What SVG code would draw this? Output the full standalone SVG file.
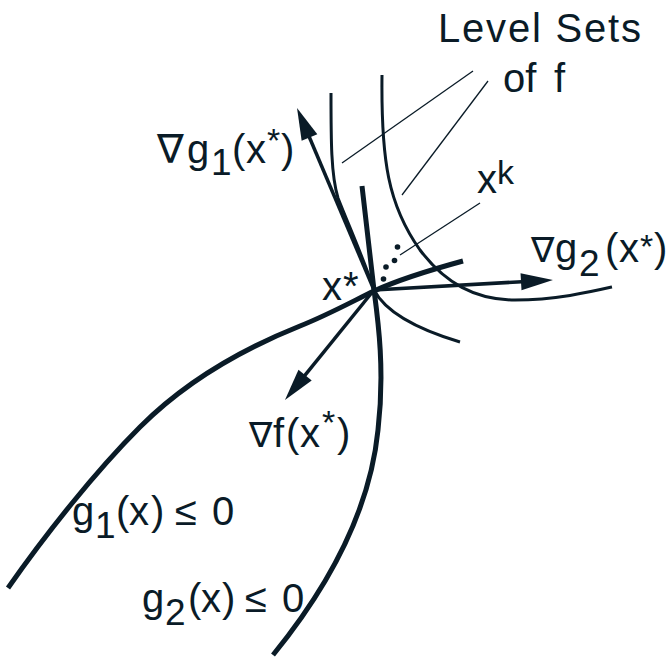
<svg xmlns="http://www.w3.org/2000/svg" width="670" height="658" viewBox="0 0 670 658">
<defs>
<style>
.thick{fill:none;stroke:#0a1b27;stroke-width:5;stroke-linecap:butt}
.lvl{fill:none;stroke:#0a1b27;stroke-width:3}
.arr{fill:none;stroke:#0a1b27;stroke-width:3.5}
.lead{fill:none;stroke:#0a1b27;stroke-width:1.3}
.dot{fill:#0a1b27}
text{font-family:"Liberation Sans","DejaVu Sans",Arial,sans-serif;font-size:40px;fill:#0a1b27}
.sub{font-size:37px}
.sup{font-size:34px}
.nab{font-size:35px}
.nabL{font-size:40px}
</style>
<marker id="ah" viewBox="-1 -12 40 24" markerWidth="40" markerHeight="24" refX="10" refY="0" orient="auto" markerUnits="userSpaceOnUse">
<path d="M0,-8.5 L32,0 L0,8.5 Z" fill="#0a1b27"/>
</marker>
</defs>
<rect width="670" height="658" fill="#ffffff"/>
<g id="connectors">
<path id="levelset1" class="lvl" d="M331,93 C331,140 331,175 338,198 C349,226 365,262 374,290 C386,313 420,330 460,342"/>
<path id="levelset2" class="lvl" d="M382,75 C381,160 388,205 420,250 C445,283 475,300 515,300 C555,300 590,292 612,287"/>
<path id="g1curve" class="thick" d="M8,588 C45,535 95,472 140,427 S240,350 300,326 C330,314 355,300 374,291 C400,279 430,270 463,261"/>
<path id="g2curve" class="thick" d="M273,655 C330,585 370,510 378,430 C385,370 378,320 374,290 L362,186"/>
<path id="grad-g1" class="arr" d="M374,290 L305.6,128.3" marker-end="url(#ah)"/>
<path id="grad-g2" class="arr" d="M374,290 L531,281.2" marker-end="url(#ah)"/>
<path id="grad-f" class="arr" d="M374,290 L298.8,382.9" marker-end="url(#ah)"/>
<path class="lead" d="M473,71 L342,163"/>
<path class="lead" d="M488,81 L402,195"/>
<path class="lead" d="M480,203 L400,255"/>
</g>
<g id="iterates">
<circle class="dot" cx="383.5" cy="279" r="2.8"/>
<circle class="dot" cx="386" cy="267" r="2.8"/>
<circle class="dot" cx="394.5" cy="260.5" r="2.8"/>
<circle class="dot" cx="397.5" cy="247" r="2.8"/>
</g>
<g id="label-levelsets">
<text x="438" y="42" letter-spacing="1.8">Level Sets</text>
<text y="92"><tspan x="503">of</tspan><tspan x="554">f</tspan></text>
</g>
<g id="label-gradg1">
<text y="163"><tspan class="nabL" x="157">∇</tspan><tspan x="187">g</tspan><tspan class="sub" x="211" y="175">1</tspan><tspan x="232" y="163">(</tspan><tspan x="246">x</tspan><tspan class="sup" x="267" y="152">*</tspan><tspan x="281" y="163">)</tspan></text>
</g>
<g id="label-gradg2">
<text y="262"><tspan class="nab" x="531">∇</tspan><tspan x="555">g</tspan><tspan class="sub" x="579" y="276">2</tspan><tspan x="605" y="262">(</tspan><tspan x="619">x</tspan><tspan class="sup" x="640" y="258">*</tspan><tspan x="654" y="262">)</tspan></text>
</g>
<g id="label-xstar">
<text y="300"><tspan x="322">x</tspan><tspan x="343">*</tspan></text>
</g>
<g id="label-xk">
<text y="193"><tspan x="477">x</tspan><tspan class="sup" x="497" y="184" font-size="30">k</tspan></text>
</g>
<g id="label-gradf">
<text y="447"><tspan class="nab" x="249">∇</tspan><tspan x="273">f</tspan><tspan x="286">(</tspan><tspan x="300">x</tspan><tspan class="sup" x="322" y="434">*</tspan><tspan x="337" y="447">)</tspan></text>
</g>
<g id="label-g1">
<text y="525"><tspan x="72">g</tspan><tspan class="sub" x="95" y="538">1</tspan><tspan x="116" y="525">(</tspan><tspan x="129">x</tspan><tspan x="151">)</tspan><tspan x="175">≤</tspan><tspan x="212">0</tspan></text>
</g>
<g id="label-g2">
<text y="612"><tspan x="142">g</tspan><tspan class="sub" x="165" y="625">2</tspan><tspan x="188" y="612">(</tspan><tspan x="201">x</tspan><tspan x="222">)</tspan><tspan x="245">≤</tspan><tspan x="282">0</tspan></text>
</g>
</svg>
